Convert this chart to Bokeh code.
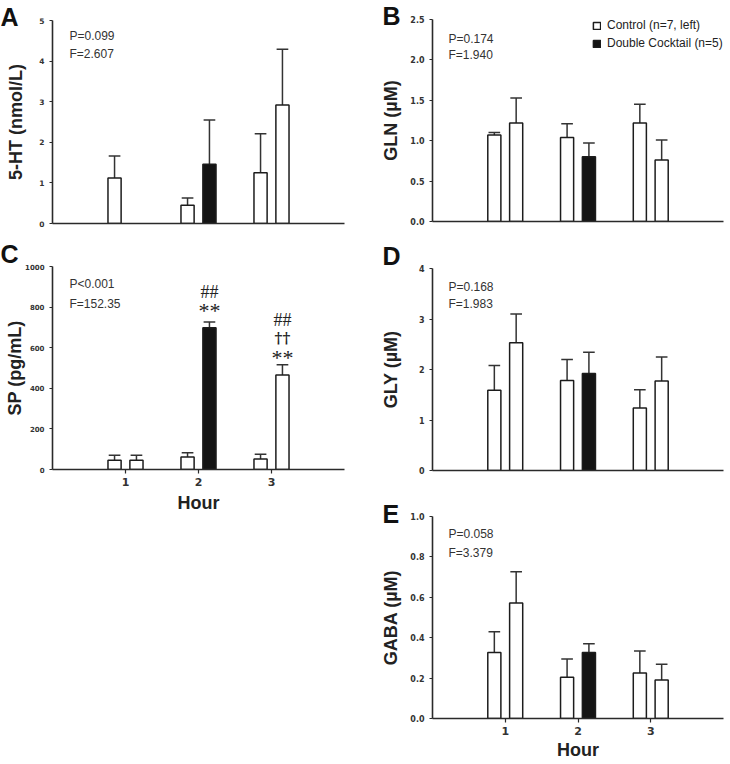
import numpy as np
from bokeh.plotting import figure
from bokeh.layouts import row, column
from bokeh.models import (ColumnDataSource, Range1d, FixedTicker, PrintfTickFormatter,
                          BasicTickFormatter, Label, Legend, LegendItem, GridBox)
from bokeh.embed import file_html
from bokeh.resources import INLINE

nan = float("nan")

# ---------------- data ----------------
hours = [1, 2, 3]

# A: 5-HT (nmol/L)
ht5_left = [1.12, 0.45, 1.25]
ht5_left_err = [0.54, 0.18, 0.96]
ht5_right = [nan, 1.46, 2.92]
ht5_right_err = [nan, 1.09, 1.37]

# B: GLN (µM)
gln_left = [1.07, 1.04, 1.22]
gln_left_err = [0.03, 0.17, 0.23]
gln_right = [1.22, 0.80, 0.76]
gln_right_err = [0.31, 0.17, 0.25]

# C: SP (pg/mL)
sp_left = [46, 61, 52]
sp_left_err = [24, 21, 23]
sp_right = [46, 698, 466]
sp_right_err = [24, 28, 50]

# D: GLY (µM)
gly_left = [1.59, 1.78, 1.24]
gly_left_err = [0.49, 0.42, 0.36]
gly_right = [2.53, 1.92, 1.77]
gly_right_err = [0.57, 0.42, 0.48]

# E: GABA (µM)
gaba_left = [0.327, 0.204, 0.225]
gaba_left_err = [0.103, 0.090, 0.109]
gaba_right = [0.572, 0.327, 0.190]
gaba_right_err = [0.155, 0.043, 0.078]

left_fill = ["white", "white", "white"]
right_fill = ["white", "#141414", "white"]

legend_labels = ["Control (n=7, left)", "Double Cocktail (n=5)"]
panel_letters = ["A", "B", "C", "D", "E"]

p_texts = ["P=0.099", "P=0.174", "P<0.001", "P=0.168", "P=0.058"]
f_texts = ["F=2.607", "F=1.940", "F=152.35", "F=1.983", "F=3.379"]

# significance marks above SP right bars: hour index -> [(text, offset px)]
sp_marks = {1: [("**", 12), ("##", 30)],
            2: [("**", 7), ("\u2020\u2020", 27), ("##", 45)]}

AX = "#2a2a2a"
TXT = "#222222"
OFF = 0.15
BW = 0.18
CAP = 0.08
PAGE_W, PAGE_H = 730, 764


def make_panel(left, left_err, right, right_err, ymax, yticks, fmt, ylabel,
               ptxt, ftxt, W, H, mbl, mbr, mbt, mbb, tick_font, ylab_standoff,
               pf_xy, show_x=False, xlab_standoff=0):
    p = figure(width=W, height=H, x_range=Range1d(0, 4), y_range=Range1d(0, ymax),
               output_backend="svg", toolbar_location=None,
               min_border_left=mbl, min_border_right=mbr,
               min_border_top=mbt, min_border_bottom=mbb)
    p.outline_line_color = None
    p.grid.visible = False
    p.background_fill_color = "white"
    p.border_fill_color = "white"

    h = np.array(hours, dtype=float)
    xs = np.concatenate([h - OFF, h + OFF])
    tops = np.concatenate([np.array(left, dtype=float), np.array(right, dtype=float)])
    errs = np.concatenate([np.array(left_err, dtype=float), np.array(right_err, dtype=float)])
    fills = list(left_fill) + list(right_fill)

    ebar = ColumnDataSource(dict(x=xs, y0=tops, y1=tops + errs,
                                 c0=xs - CAP, c1=xs + CAP))
    p.segment(x0="x", y0="y0", x1="x", y1="y1", source=ebar,
              line_color="#333333", line_width=1.5)
    p.segment(x0="c0", y0="y1", x1="c1", y1="y1", source=ebar,
              line_color="#333333", line_width=1.5)

    src = ColumnDataSource(dict(x=xs, top=tops, fill=fills))
    r = p.vbar(x="x", top="top", bottom=0, width=BW, fill_color="fill",
               line_color="#1c1c1c", line_width=1.5, source=src)

    # y axis
    ya = p.yaxis[0]
    ya.ticker = FixedTicker(ticks=yticks)
    ya.formatter = fmt
    ya.major_tick_out = 3
    ya.major_tick_in = 0
    ya.minor_tick_out = 0
    ya.minor_tick_in = 0
    ya.axis_line_color = AX
    ya.axis_line_width = 1.6
    ya.major_tick_line_color = AX
    ya.major_tick_line_width = 1.2
    ya.major_label_text_font = "DejaVu Sans"
    ya.major_label_text_font_style = "bold"
    ya.major_label_text_font_size = tick_font
    ya.major_label_text_color = "#333333"
    ya.major_label_standoff = 5
    ya.axis_label = ylabel
    ya.axis_label_text_font = "Liberation Sans"
    ya.axis_label_text_font_style = "bold"
    ya.axis_label_text_font_size = "18px"
    ya.axis_label_text_color = TXT
    ya.axis_label_standoff = ylab_standoff

    # x axis
    xa = p.xaxis[0]
    xa.axis_line_color = AX
    xa.axis_line_width = 1.6
    xa.minor_tick_out = 0
    xa.minor_tick_in = 0
    xa.major_tick_in = 0
    if show_x:
        xa.ticker = FixedTicker(ticks=hours)
        xa.formatter = BasicTickFormatter()
        xa.major_tick_out = 4
        xa.major_tick_line_color = AX
        xa.major_tick_line_width = 1.2
        xa.major_label_text_font = "DejaVu Sans"
        xa.major_label_text_font_style = "bold"
        xa.major_label_text_font_size = "11px"
        xa.major_label_text_color = "#333333"
        xa.major_label_standoff = 4
        xa.axis_label = "Hour"
        xa.axis_label_text_font = "Liberation Sans"
        xa.axis_label_text_font_style = "bold"
        xa.axis_label_text_font_size = "18px"
        xa.axis_label_text_color = TXT
        xa.axis_label_standoff = xlab_standoff
    else:
        xa.ticker = FixedTicker(ticks=[])
        xa.major_tick_out = 0
        xa.major_label_text_font_size = "0px"

    fh = H - mbt - mbb
    # statistics text
    px, l1, l2 = pf_xy
    for txt, dy in ((ptxt, l1), (ftxt, l2)):
        p.add_layout(Label(x=px, y=fh - dy, x_units="screen", y_units="screen",
                           text=txt, text_font="Liberation Sans", text_font_size="12px",
                           text_color="#333333", text_baseline="middle", text_align="left"))
    return p, r, xs, tops, errs


one_dec = PrintfTickFormatter(format="%.1f")

pA, rA, *_ = make_panel(ht5_left, ht5_left_err, ht5_right, ht5_right_err, 5, [0, 1, 2, 3, 4, 5],
                        BasicTickFormatter(), "5-HT (nmol/L)", p_texts[0], f_texts[0],
                        365, 240, 52, 21, 20, 17, "7.5px", 10, (17, 15, 33))

pC, rC, xsC, topsC, errsC = make_panel(sp_left, sp_left_err, sp_right, sp_right_err, 1000,
                                       [0, 200, 400, 600, 800, 1000], BasicTickFormatter(),
                                       "SP (pg/mL)", p_texts[2], f_texts[2],
                                       365, 276, 52, 21, 26, 47, "7px", -3, (17, 17, 37),
                                       show_x=True, xlab_standoff=4)

pB, rB, *_ = make_panel(gln_left, gln_left_err, gln_right, gln_right_err, 2.5,
                        [0, 0.5, 1.0, 1.5, 2.0, 2.5], one_dec, "GLN (\u00b5M)",
                        p_texts[1], f_texts[1], 365, 240, 67, 7, 19, 19, "8px", 6, (16, 19, 35))

pD, rD, *_ = make_panel(gly_left, gly_left_err, gly_right, gly_right_err, 4, [0, 1, 2, 3, 4],
                        BasicTickFormatter(), "GLY (\u00b5M)", p_texts[3], f_texts[3],
                        365, 250, 67, 7, 28, 20, "8px", 15, (16, 18, 35))

pE, rE, *_ = make_panel(gaba_left, gaba_left_err, gaba_right, gaba_right_err, 1.0,
                        [0, 0.2, 0.4, 0.6, 0.8, 1.0], one_dec, "GABA (\u00b5M)",
                        p_texts[4], f_texts[4], 365, 272, 67, 7, 26, 44, "8px", 6, (16, 17, 36),
                        show_x=True, xlab_standoff=2)

# significance marks on panel C
n = len(hours)
for i, marks in sp_marks.items():
    xi = xsC[n + i]
    yi = topsC[n + i] + errsC[n + i]
    for txt, dy in marks:
        dagger = txt.startswith("\u2020")
        star = txt.startswith("*")
        pC.add_layout(Label(x=xi, y=yi, y_offset=dy, text=txt,
                            text_font="DejaVu Serif" if dagger else "Liberation Serif",
                            text_font_size="15px" if dagger else ("22px" if star else "18px"),
                            text_font_style="bold" if dagger else "normal",
                            text_color="#222222",
                            text_align="center", text_baseline="middle"))

# legend on panel B (location = bottom-left corner, px from frame bottom-left)
legend = Legend(items=[LegendItem(label=legend_labels[0], renderers=[rB], index=0),
                       LegendItem(label=legend_labels[1], renderers=[rB], index=n + 1)],
                location=(160, 171), orientation="vertical",
                glyph_width=9, glyph_height=9, label_standoff=6,
                label_text_font="Liberation Sans", label_text_font_size="12px",
                label_text_color="#222222", spacing=4, padding=0, margin=0,
                label_height=14, border_line_alpha=0, background_fill_alpha=0)
pB.add_layout(legend)

main = row(column(pA, pC), column(pB, pD, pE))

# transparent overlay carrying the panel letters (page pixel coordinates)
ov = figure(width=PAGE_W, height=PAGE_H, x_range=Range1d(0, PAGE_W), y_range=Range1d(PAGE_H, 0),
            output_backend="svg", toolbar_location=None,
            x_axis_location=None, y_axis_location=None,
            min_border=0, min_border_left=0, min_border_right=0,
            min_border_top=0, min_border_bottom=0)
ov.outline_line_color = None
ov.grid.visible = False
ov.background_fill_alpha = 0
ov.border_fill_alpha = 0
letter_pos = [(0, 16), (382, 15), (0, 253), (382, 255), (382, 513)]
for txt, (lx, ly) in zip(panel_letters, letter_pos):
    ov.add_layout(Label(x=lx, y=ly, text=txt, text_font="Liberation Sans",
                        text_font_size="25px", text_font_style="bold", text_color="#111111",
                        text_baseline="middle", text_align="left"))

layout = GridBox(children=[(main, 0, 0), (ov, 0, 0)])
open("out.html", "w").write(file_html(layout, INLINE))
